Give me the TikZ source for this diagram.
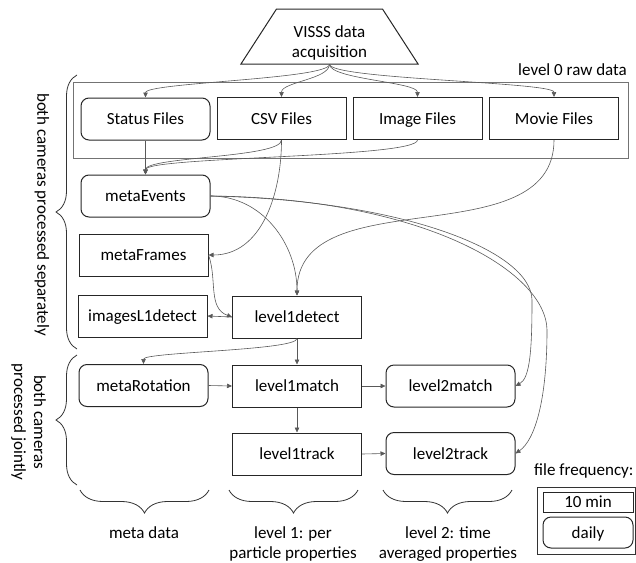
\documentclass[tikz,border=0pt]{standalone}
\usepackage{fontspec}
\setmainfont{Carlito}
\usetikzlibrary{arrows.meta,decorations.pathreplacing}
\begin{document}
\begin{tikzpicture}[x=1pt,y=-1pt,font=\fontsize{17}{20}\selectfont,
  box/.style={draw=black!85, line width=1pt, minimum width=129pt, minimum height=42pt, inner sep=0pt, text height=11pt, text depth=0pt},
  rbox/.style={box, rounded corners=8pt},
  conn/.style={draw=black!65, line width=0.6pt, -{Triangle[length=5pt,width=4.5pt]}},
  brcleft/.style={draw=black!80, line width=0.8pt, decorate, decoration={brace, amplitude=21pt}},
  brcbot/.style={draw=black!80, line width=0.8pt, decorate, decoration={brace, amplitude=23pt}},
  lbl/.style={inner sep=0pt, align=center}]
\useasboundingbox (0,0) rectangle (636,562);

% acquisition (trapezoid)
\node (acq) [minimum width=177pt, minimum height=55pt, inner sep=0pt] at (329.5,36.5) {};
\draw[draw=black!85, line width=1pt] (276.5,9) -- (382.5,9) -- (acq.south east) -- (acq.south west) -- cycle;
\node (acqlabel) [lbl] at (329.5,42.5) {VISSS data\\acquisition};

% level 0 container
\node (lvl0) [draw=black!55, line width=0.8pt, minimum width=555pt, minimum height=76pt, inner sep=0pt] at (350.5,120) {};
\node (lvl0label) [inner sep=0pt, anchor=base east] at (627,75) {level 0 raw data};

\node (status) [rbox] at (145.5,119) {Status Files};
\node (csv)    [box]  at (281.5,118.5) {CSV Files};
\node (image)  [box]  at (417.5,118.5) {Image Files};
\node (movie)  [box]  at (554,118.5) {Movie Files};

\node (mevents) [rbox] at (145.5,196) {metaEvents};
\node (mframes) [box]  at (143.5,255) {metaFrames};
\node (images)  [box]  at (142.5,316) {imagesL1detect};
\node (l1detect)[box]  at (297,317) {level1detect};

\node (mrot)    [rbox] at (143.5,385.5) {metaRotation};
\node (l1match) [box]  at (297,386) {level1match};
\node (l2match) [rbox] at (450.5,386) {level2match};
\node (l1track) [box]  at (297,454) {level1track};
\node (l2track) [rbox] at (450.5,453.5) {level2track};

% connectors
\draw[conn] (acq.south) .. controls +(0,15) and +(0,-15) .. (status.north);
\draw[conn] (acq.south) .. controls +(0,15) and +(0,-15) .. (csv.north);
\draw[conn] (acq.south) .. controls +(0,15) and +(0,-15) .. (image.north);
\draw[conn] (acq.south) .. controls +(0,15) and +(0,-15) .. (movie.north);

\draw[conn] (status.south) -- (mevents.north);
\draw[conn] (csv.south) .. controls +(0,18) and +(0,-18) .. (mevents.north);
\draw[conn] (image.south) .. controls +(0,18) and +(0,-18) .. (mevents.north);

\draw[conn] (csv.south) to[out=-90,in=0] (mframes.east);
\draw[conn] (movie.south) to[out=-90,in=90] (l1detect.north);
\draw[conn] (mevents.east) to[out=0,in=90] (l1detect.north);

\draw[conn] (mevents.east) .. controls (400,200) and (531,250) .. (532,300)
   .. controls (532,350) and (530,378) .. (l2match.east);
\draw[conn] (mevents.east) .. controls (420,198) and (546,270) .. (547,330)
   .. controls (547,400) and (535,440) .. (l2track.east);

\draw[conn] (mframes.east) to[out=-70,in=160] (l1detect.west);
\draw[conn] (l1detect.west) -- (images.east);

\draw[conn] (l1detect.south) .. controls +(0,12) and +(0,-12) .. (mrot.north);
\draw[conn] (l1detect.south) -- (l1match.north);
\draw[conn] (mrot.east) -- (l1match.west);
\draw[conn] (l1match.east) -- (l2match.west);
\draw[conn] (l1match.south) -- (l1track.north);
\draw[conn] (l1track.east) -- (l2track.west);

% braces left
\draw[brcleft] (77,349) -- (77,75);
\node (seplabel) [lbl, rotate=-90] at (42,214.5) {both cameras processed separately};
\draw[brcleft] (77,485) -- (77,355);
\node (jointlabel) [lbl, rotate=-90] at (28.5,422) {both cameras\\processed jointly};

% braces bottom
\draw[brcbot] (209,490) -- (80,490);
\draw[brcbot] (358,490) -- (229,490);
\draw[brcbot] (512,490) -- (383,490);
\node (metalabel) [inner sep=0pt, anchor=base] at (144,538) {meta data};
\node (l1label) [lbl] at (293,544) {level 1: per\\particle properties};
\node (l2label) [lbl] at (448,544) {level 2: time\\averaged properties};

% legend
\node (legendtitle) [inner sep=0pt, anchor=base west] at (534,475) {file frequency:};
\node (legendbox) [draw=black!80, line width=0.8pt, minimum width=98pt, minimum height=67pt, inner sep=0pt] at (586,520.5) {};
\node (leg10) [box, minimum width=90pt, minimum height=20pt] at (588,502) {10 min};
\node (legdaily) [rbox, minimum width=90pt, minimum height=31pt] at (588,532.5) {daily};
\end{tikzpicture}
\end{document}
